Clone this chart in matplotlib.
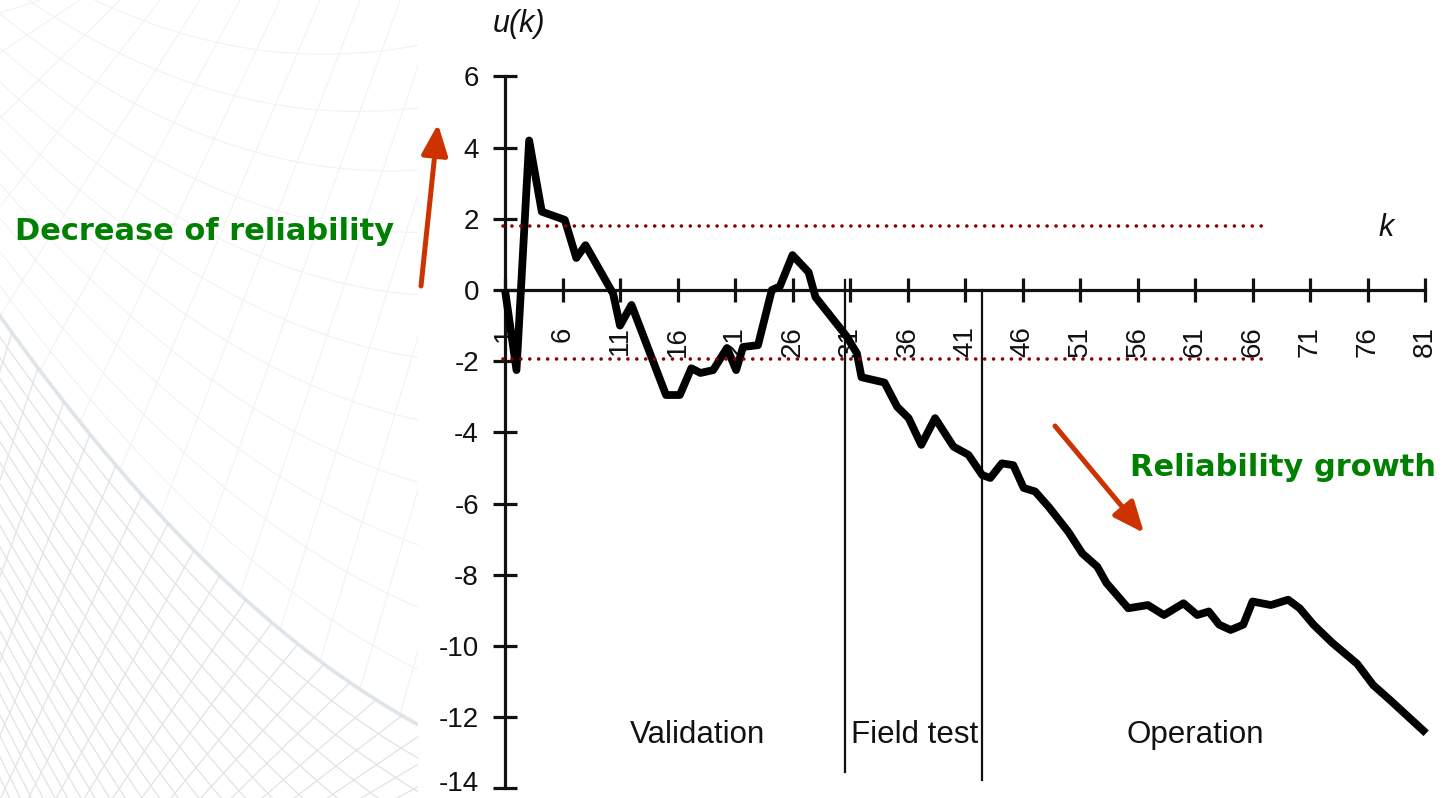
import numpy as np
import matplotlib
matplotlib.use("Agg")
import matplotlib.pyplot as plt
from matplotlib.patches import Rectangle, FancyArrowPatch
from matplotlib.transforms import ScaledTranslation

# ---- data: cumulative u-plot statistic versus failure index k ----
k_points = [1.0, 2.0, 3.1, 4.2, 6.2, 7.2, 8.0, 10.4, 11.0, 12.0, 15.0, 16.2,
            17.2, 18.0, 19.1, 20.3, 21.1, 21.7, 23.0, 24.2, 24.9, 26.0, 27.4,
            28.0, 30.7, 31.6, 32.0, 34.0, 35.1, 36.1, 37.2, 38.4, 40.0, 41.3,
            42.5, 43.2, 44.2, 45.2, 46.1, 47.1, 48.3, 50.0, 51.2, 52.5, 53.3,
            55.2, 56.9, 58.3, 60.0, 61.2, 62.2, 63.1, 64.1, 65.2, 66.0, 67.6,
            69.1, 70.1, 71.3, 72.9, 75.1, 76.5, 77.9, 81.1]
u_points = [0.0, -2.25, 4.2, 2.2, 1.97, 0.9, 1.26, -0.1, -1.0, -0.42, -2.95, -2.95,
            -2.2, -2.33, -2.25, -1.63, -2.25, -1.6, -1.55, 0.0, 0.1, 0.98, 0.5,
            -0.2, -1.3, -1.78, -2.45, -2.6, -3.28, -3.6, -4.35, -3.6, -4.4, -4.63,
            -5.2, -5.28, -4.87, -4.92, -5.56, -5.66, -6.1, -6.8, -7.4, -7.77, -8.23,
            -8.94, -8.85, -9.13, -8.8, -9.13, -9.03, -9.4, -9.55, -9.4, -8.75, -8.85,
            -8.7, -8.94, -9.4, -9.9, -10.5, -11.1, -11.5, -12.45]

x_tick_values = [1, 6, 11, 16, 21, 26, 31, 36, 41, 46, 51, 56, 61, 66, 71, 76, 81]
x_tick_labels = [str(v) for v in x_tick_values]
y_tick_values = [6, 4, 2, 0, -2, -4, -6, -8, -10, -12, -14]
y_tick_labels = ["6", "4", "2", "0", "-2", "-4", "-6", "-8", "-10", "-12", "-14"]

band_upper = 1.8
band_lower = -1.95
band_k_range = [0.85, 67.1]

phase_bounds = [30.57, 42.48]
phase_names = ["Validation", "Field test", "Operation"]

plt.rcParams["font.family"] = ["Liberation Sans", "DejaVu Sans"]

W, H = 1445, 798
fig = plt.figure(figsize=(W / 100, H / 100), dpi=100)
fig.patch.set_facecolor("white")

# ---- decorative wire-mesh backdrop on the left (pixel coordinates) ----
bg = fig.add_axes([0, 0, 1, 1])
bg.set_xlim(0, W)
bg.set_ylim(H, 0)
bg.axis("off")

xs = np.linspace(-50, 470, 200)


def edge(x):
    return 316 + 1.4076 * x - 0.001029 * x ** 2


mesh_col = (0.87, 0.895, 0.91)
for d in np.arange(0, 520, 21):
    bg.plot(xs, edge(xs) + d * (1 + xs / 700), color=mesh_col, lw=0.9, zorder=1)
for x0 in np.arange(-300, 700, 26):
    x1 = x0 - 160
    bg.plot([x0, x1], [edge(x0), H + 40], color=mesh_col, lw=0.9, zorder=1)
# fainter sheet above the bright edge
faint = (0.945, 0.95, 0.955)
for d in np.arange(30, 400, 34):
    bg.plot(xs, edge(xs) - d * (1 + xs / 500), color=faint, lw=0.8, zorder=1)
for x0 in np.arange(-200, 700, 40):
    bg.plot([x0, x0 + 200], [edge(x0), 0], color=faint, lw=0.8, zorder=1)
bg.plot(xs, edge(xs), color=(0.84, 0.87, 0.89), lw=3, alpha=0.6, zorder=1)
bg.add_patch(Rectangle((418, 0), W - 418, H, facecolor="white", edgecolor="none", zorder=2))

# annotation arrows and captions
arrow_col = "#cc3300"
for tail, tip in [((421, 286), (438, 124)), ((1055, 426), (1144, 533))]:
    bg.add_patch(FancyArrowPatch(tail, tip, arrowstyle="-|>,head_length=0.75,head_width=0.32",
                                 mutation_scale=25, color=arrow_col, lw=3.6,
                                 shrinkA=0, shrinkB=0, zorder=4))
green = "#008000"
bg.text(15, 232, "Decrease of reliability", color=green, fontsize=22, fontweight="bold",
        family="DejaVu Sans", ha="left", va="center", zorder=4)
bg.text(1130, 467, "Reliability growth", color=green, fontsize=22, fontweight="bold",
        family="DejaVu Sans", ha="left", va="center", zorder=4)

# ---- main plot ----
ax = fig.add_axes([0, 0, 1, 1], facecolor="none")
ax.set_xlim(1 - 505 / 11.5, 1 + 940 / 11.5)
ax.set_ylim((290 - 798) / 35.6, 290 / 35.6)

for side in ("top", "right"):
    ax.spines[side].set_visible(False)
ax.spines["left"].set_position(("data", 1))
ax.spines["left"].set_bounds(-14, 6)
ax.spines["bottom"].set_position(("data", 0))
ax.spines["bottom"].set_bounds(1, 81)
for side in ("left", "bottom"):
    ax.spines[side].set_linewidth(2.3)
    ax.spines[side].set_color("#111111")

ax.set_xticks(x_tick_values)
ax.set_xticklabels(x_tick_labels, rotation=90)
ax.set_yticks(y_tick_values)
ax.set_yticklabels(y_tick_labels)
ax.tick_params(axis="both", direction="inout", length=17.5, width=2.3,
               color="#111111", labelcolor="#111111", labelsize=20)
ax.tick_params(axis="x", pad=17.5)
ax.tick_params(axis="y", pad=10)

# keep the lowest y label inside the canvas
last = ax.get_yticklabels()[-1]
last.set_transform(last.get_transform() + ScaledTranslation(0, 5 / 72, fig.dpi_scale_trans))

# reference band
for level in (band_upper, band_lower):
    ax.plot(band_k_range, [level, level], color="#8b0000", lw=2.6,
            linestyle=(0, (0.01, 2.46)), dash_capstyle="round", zorder=6)

# phase separators and names
ax.plot([phase_bounds[0]] * 2, [0.28, -13.54], color="#111111", lw=1.6, zorder=3)
ax.plot([phase_bounds[1]] * 2, [0.0, -13.76], color="#111111", lw=1.6, zorder=3)
for name, kc in zip(phase_names, [17.7, 36.6, 61.0]):
    ax.text(kc, -12.5, name, fontsize=22.5, ha="center", va="center", color="#111111")

# u(k) curve
ax.plot(k_points, u_points, color="black", lw=5.6, solid_joinstyle="round",
        solid_capstyle="butt", zorder=5)

ax.text(2.2, 7.47, "u(k)", fontsize=22, style="italic", ha="center", va="center", color="#111111")
ax.text(77.6, 1.74, "k", fontsize=22, style="italic", ha="center", va="center", color="#111111")

fig.savefig("out.png", dpi=100, facecolor="white")
